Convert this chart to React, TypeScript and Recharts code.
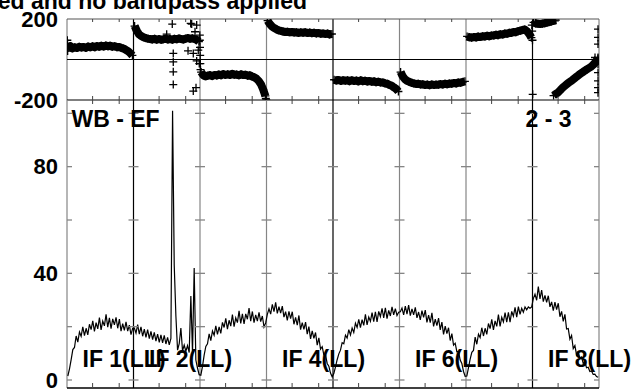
import React from 'react';
import { ComposedChart, Line, Scatter, XAxis, YAxis, ReferenceLine, ReferenceDot } from 'recharts';

const FONT = '"Liberation Sans", Arial, Helvetica, sans-serif';

// ---------- data ----------
const titleText = 'ed and no bandpass applied';
const baselineLabel = 'WB - EF';
const stokesLabel = '2 - 3';
const ifLabels = ['IF 1(LL)', 'IF 2(LL)', 'IF 4(LL)', 'IF 6(LL)', 'IF 8(LL)'];
const ifLabelIndex = [0, 1, 3, 5, 7];
const ifBoundaries = [0, 1, 2, 3, 4, 5, 6, 7, 8];
const darkBoundaries = [1, 4, 7];
const phaseTicks = [-200, 200];
const ampTicks = [0, 40, 80];
const ampCrossTicks = [0, 20, 40, 60, 80, 100];
const minorTickFracs = [0.385, 0.785];

// amplitude per IF (40 channels each)
const ampIF1 = [1.5, 4.2, 7.6, 11.4, 12.2, 16.5, 14.2, 18.0, 16.4, 19.9, 16.6, 19.4, 16.9, 20.9, 18.9, 22.2, 18.2, 21.5, 19.2, 23.4, 18.8, 22.1, 20.3, 24.6, 19.8, 23.3, 19.3, 22.9, 20.7, 23.5, 19.4, 22.8, 18.3, 21.1, 18.6, 21.8, 18.3, 20.6, 17.0, 19.4];
const ampIF2 = [19.5, 17.6, 20.8, 17.2, 19.9, 16.4, 19.1, 16.0, 18.9, 15.5, 18.2, 15.1, 17.9, 14.6, 17.2, 14.1, 16.9, 13.9, 16.7, 13.5, 16.0, 13.2, 15.6, 101, 43, 24, 11.2, 13.6, 19.5, 10.9, 13.1, 10.8, 12.9, 10.3, 31.5, 10.0, 42, 7.5, 4.5, 2.0];
const ampIF3 = [1.8, 5.1, 9.3, 12.6, 13.6, 17.3, 14.8, 18.4, 16.8, 20.3, 17.1, 19.9, 17.5, 21.6, 19.7, 23.1, 19.1, 22.4, 20.2, 24.5, 20.0, 23.3, 21.5, 25.9, 21.2, 24.8, 21.0, 24.8, 22.8, 27.0, 22.1, 25.7, 21.5, 24.4, 22.1, 25.4, 21.9, 24.0, 19.9, 21.4];
const ampIF4 = [24.6, 26.7, 24.7, 28.4, 25.6, 29.1, 25.0, 27.5, 25.1, 27.7, 23.6, 25.6, 22.4, 25.7, 23.0, 25.6, 20.9, 23.5, 20.6, 24.2, 18.9, 21.5, 19.0, 21.7, 17.2, 20.0, 15.4, 18.4, 15.6, 17.8, 13.1, 15.8, 11.6, 12.5, 9.4, 9.4, 6.2, 5.2, 2.6, 1.2];
const ampIF5 = [2.4, 4.9, 7.6, 9.8, 11.2, 14.0, 13.6, 16.8, 15.7, 18.9, 16.9, 19.5, 17.8, 21.3, 19.7, 22.7, 19.6, 22.6, 20.5, 24.6, 20.7, 23.6, 22.0, 25.3, 21.9, 25.6, 21.8, 25.7, 23.8, 26.9, 23.3, 27.1, 23.0, 26.1, 24.0, 27.4, 24.4, 26.8, 24.2, 25.4];
const ampIF6 = [25.6, 27.0, 24.4, 27.7, 24.7, 28.1, 24.1, 26.7, 24.4, 27.2, 23.3, 25.5, 22.5, 26.0, 23.5, 26.2, 21.6, 24.3, 21.5, 25.2, 20.1, 22.8, 20.4, 23.2, 18.8, 21.7, 17.1, 20.2, 17.4, 19.6, 14.8, 17.4, 13.1, 13.8, 10.6, 10.7, 7.5, 6.2, 3.2, 1.4];
const ampIF7 = [1.5, 4.6, 7.8, 10.4, 11.1, 16.1, 13.4, 17.2, 15.9, 19.6, 16.5, 19.4, 17.1, 21.2, 19.3, 22.7, 18.8, 22.2, 20.1, 24.5, 20.1, 23.5, 21.8, 25.3, 21.7, 25.4, 21.7, 25.7, 23.9, 27.2, 23.6, 27.5, 24.6, 26.9, 25.4, 27.4, 26.3, 27.4, 26.9, 27.4];
const ampIF8 = [30.5, 32.2, 29.9, 35.0, 30.4, 33.7, 29.4, 31.7, 29.1, 31.6, 27.4, 29.3, 26.0, 29.2, 26.4, 28.8, 23.7, 25.7, 22.0, 24.6, 19.1, 19.3, 15.3, 16.7, 11.8, 12.9, 9.4, 10.3, 8.2, 8.6, 6.2, 6.8, 4.6, 4.8, 3.2, 3.4, 2.1, 2.2, 1.3, 1.0];

// phase per IF (30 channels each)
const PH_N = 30;
const phaseIF1 = [58, 66, 55, 61, 57, 63, 59, 62, 57, 64, 60, 65, 61, 67, 63, 68, 64, 69, 65, 68, 63, 66, 61, 62, 57, 54, 48, 41, 32, 20];
const phaseIF2 = [165, 142, 124, 116, 110, 106, 103, 101, 99, 102, 98, 101, 97, 100, 103, 99, 101, 98, 102, 100, 104, 101, 99, 103, 106, 102, 105, 101, 97, 88];
const phaseIF3 = [-62, -78, -83, -80, -77, -82, -76, -79, -74, -78, -72, -76, -73, -77, -71, -75, -74, -78, -73, -77, -75, -80, -78, -84, -88, -95, -106, -122, -148, -180];
const phaseIF4 = [192, 175, 163, 155, 149, 144, 141, 138, 136, 137, 134, 136, 133, 135, 131, 134, 132, 135, 131, 133, 130, 132, 129, 131, 127, 129, 126, 128, 124, 126];
const phaseIF5 = [-100, -104, -101, -106, -102, -105, -103, -107, -102, -106, -104, -108, -103, -107, -105, -109, -106, -110, -108, -112, -110, -114, -113, -118, -120, -126, -130, -138, -145, -158];
const phaseIF6 = [-62, -84, -98, -106, -111, -115, -118, -121, -120, -123, -122, -126, -124, -127, -123, -126, -124, -125, -121, -124, -120, -122, -118, -120, -116, -118, -114, -115, -111, -108];
const phaseIF7 = [114, 110, 108, 111, 109, 113, 111, 115, 113, 117, 115, 119, 118, 122, 120, 125, 123, 128, 127, 132, 131, 136, 135, 140, 142, 146, 148, 140, 126, 108];
const phaseIF8Upper = [183, 178, 176, 175, 177, 179, 182, 185, 188, 191, 194];
const phaseIF8Lower = [-178, -170, -163, -152, -140, -131, -122, -113, -106, -97, -88, -80, -71, -64, -56, -49, -42, -35, -25, -12, 5];
const phaseIF8LowerStart = 9;

// scattered phase outliers: [channel position in IF units, phase]
const phaseOutliers: [number, number][] = [
  [0.005, 95], [0.008, 80], [0.01, 42],
  [1.499, 125], [1.583, 175], [1.598, 30], [1.598, -12], [1.598, -61], [1.598, -124],
  [1.82, 43], [1.86, 178], [1.875, 175], [1.899, 30], [1.899, -156], [1.925, 137],
  [1.94, -139], [1.95, 170], [1.95, -7], [1.974, 46], [1.989, -20],
  [1.997, 120], [1.997, 95], [2.0, 60], [2.003, 20], [2.005, -20], [2.008, -50],
  [2.99, -192], [2.996, -200],
  [6.99, 170], [6.995, 140], [7.0, 95], [7.003, -172],
  [7.94, 10], [7.94, -14],
  [7.985, 150], [7.985, 109], [7.985, 76], [7.985, 10], [7.985, -23], [7.985, -65], [7.985, -106], [7.985, -139], [7.985, -164],
];

// ---------- tables built from the arrays ----------
const ampArrays = [ampIF1, ampIF2, ampIF3, ampIF4, ampIF5, ampIF6, ampIF7, ampIF8];
const ampData = ampArrays.flatMap((arr, k) => arr.map((v, j) => ({ x: k + (j + 0.5) / arr.length, y: v })));

const phaseSegments: { k: number; start: number; vals: number[] }[] = [
  { k: 0, start: 0, vals: phaseIF1 },
  { k: 1, start: 0, vals: phaseIF2 },
  { k: 2, start: 0, vals: phaseIF3 },
  { k: 3, start: 0, vals: phaseIF4 },
  { k: 4, start: 0, vals: phaseIF5 },
  { k: 5, start: 0, vals: phaseIF6 },
  { k: 6, start: 0, vals: phaseIF7 },
  { k: 7, start: 0, vals: phaseIF8Upper },
  { k: 7, start: phaseIF8LowerStart, vals: phaseIF8Lower },
];
const phasePoints = phaseSegments.map((s) => s.vals.map((v, j) => ({ x: s.k + (s.start + j + 0.5) / PH_N, y: v })));
const phaseLineData: { x: number; y: number | null }[] = [];
phasePoints.forEach((seg, i) => {
  if (i > 0) phaseLineData.push({ x: seg[0].x, y: null });
  seg.forEach((p) => phaseLineData.push(p));
});
const phaseScatter = phasePoints.flat().concat(phaseOutliers.map(([x, y]) => ({ x, y })));

const ampCrossData = ifBoundaries.flatMap((k) => ampCrossTicks.map((v) => ({ x: k, y: v })));
const minorTickPositions = ifBoundaries.slice(0, 8).flatMap((k) => minorTickFracs.map((f) => k + f));

// ---------- shapes ----------
const GRAY = '#858585';
const Cross = (p: any) => {
  const { cx, cy } = p;
  if (cx == null || cy == null) return <g />;
  return <path d={`M${cx - 4},${cy}H${cx + 4}M${cx},${cy - 4}V${cy + 4}`} stroke="#000" strokeWidth={1.3} fill="none" />;
};
const vTick = (len: number) => (p: any) => (
  <line x1={p.cx} x2={p.cx} y1={p.cy} y2={p.cy + len} stroke="#444" strokeWidth={1} />
);
const hTick = (p: any) => {
  const k = p.payload ? p.payload.x : p.x;
  const l = k === 0 ? 0 : 5;
  const r = k === 8 ? 0 : 5;
  return <line x1={p.cx - l} x2={p.cx + r} y1={p.cy} y2={p.cy} stroke={GRAY} strokeWidth={1.3} />;
};

const tickStyle = { fontSize: 22, fontWeight: 700, fill: '#000', fontFamily: FONT };

const lineColor = (k: number) => (darkBoundaries.includes(k) ? '#000' : GRAY);

export default function App() {
  return (
    <div style={{ position: 'absolute', left: 0, top: 0, width: 634, height: 389, background: '#fff', overflow: 'hidden' }}>
      {/* phase panel */}
      <div style={{ position: 'absolute', left: 0, top: 0 }}>
        <ComposedChart width={634} height={389} margin={{ top: 19, right: 35, bottom: 289, left: 0 }}>
          <XAxis type="number" dataKey="x" domain={[0, 8]} hide allowDataOverflow />
          <YAxis type="number" dataKey="y" domain={[-200, 200]} ticks={phaseTicks} width={67} axisLine={false} tickLine={false} tickSize={0} tickMargin={9} tick={tickStyle} allowDataOverflow interval={0} />
          {ifBoundaries.map((k) => (
            <ReferenceLine key={'pv' + k} x={k} stroke={lineColor(k)} strokeWidth={1.2} />
          ))}
          <ReferenceLine y={200} stroke="#555" strokeWidth={1.2} />
          <ReferenceLine y={0} stroke="#000" strokeWidth={1.2} />
          <ReferenceLine y={-200} stroke="#000" strokeWidth={1.2} />
          <Scatter data={minorTickPositions.map((x) => ({ x, y: 200 }))} shape={vTick(3)} isAnimationActive={false} />
          <Scatter data={minorTickPositions.map((x) => ({ x, y: -200 }))} shape={vTick(-4)} isAnimationActive={false} />
          <Line data={phaseLineData} dataKey="y" stroke="#000" strokeWidth={8} dot={false} connectNulls={false} isAnimationActive={false} strokeLinejoin="round" />
          <Scatter data={phaseScatter} shape={Cross} isAnimationActive={false} />
        </ComposedChart>
      </div>
      {/* amplitude panel */}
      <div style={{ position: 'absolute', left: 0, top: 0 }}>
        <ComposedChart width={634} height={389} margin={{ top: 100, right: 35, bottom: 1, left: 0 }}>
          <XAxis type="number" dataKey="x" domain={[0, 8]} hide allowDataOverflow />
          <YAxis type="number" dataKey="y" domain={[-3, 105]} ticks={ampTicks} width={67} axisLine={false} tickLine={false} tickSize={0} tickMargin={9} tick={tickStyle} allowDataOverflow interval={0} />
          {ifBoundaries.map((k) => (
            <ReferenceLine key={'av' + k} x={k} stroke={lineColor(k)} strokeWidth={1.2} />
          ))}
          <ReferenceLine y={-3} stroke="#000" strokeWidth={1.5} />
          <Scatter data={ampCrossData} shape={hTick} isAnimationActive={false} />
          <Scatter data={minorTickPositions.map((x) => ({ x, y: 105 }))} shape={vTick(4)} isAnimationActive={false} />
          <Scatter data={minorTickPositions.map((x) => ({ x, y: -3 }))} shape={vTick(-5)} isAnimationActive={false} />
          <Line data={ampData} dataKey="y" stroke="#000" strokeWidth={1.2} dot={false} isAnimationActive={false} />
          {ifLabelIndex.map((k, i) => (
            <ReferenceDot
              key={'lab' + k}
              x={k}
              y={0}
              r={0}
              isFront
              shape={(p: any) => (
                <text x={p.cx + 15.5} y={p.cy - 13} fontFamily={FONT} fontWeight={700} fontSize={23} fill="#000">
                  {ifLabels[i]}
                </text>
              )}
            />
          ))}
        </ComposedChart>
      </div>
      {/* text overlay */}
      <svg width={634} height={389} style={{ position: 'absolute', left: 0, top: 0, pointerEvents: 'none' }}>
        <text x={307} y={8.5} textAnchor="end" fontFamily={FONT} fontWeight={700} fontSize={23} fill="#000">{titleText}</text>
        <text x={71.5} y={127} fontFamily={FONT} fontWeight={700} fontSize={23} fill="#000">{baselineLabel}</text>
        <text x={525.5} y={127} fontFamily={FONT} fontWeight={700} fontSize={23} fill="#000">{stokesLabel}</text>
      </svg>
    </div>
  );
}
